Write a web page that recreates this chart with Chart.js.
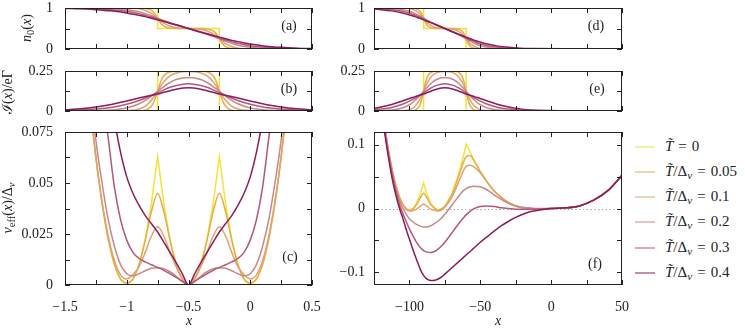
<!DOCTYPE html>
<html><head><meta charset="utf-8">
<script src="https://cdn.jsdelivr.net/npm/chart.js@4.4.1/dist/chart.umd.min.js"></script>
<style>
body{margin:0;background:#fff;}
#wrap{position:relative;width:745px;height:328px;overflow:hidden;font-family:"Liberation Serif","DejaVu Serif",serif;color:#222;background:#fff;}
canvas{position:absolute;}
.t{position:absolute;white-space:nowrap;font-size:14px;line-height:1;transform:translate(-50%,-50%);}
.r{transform:translate(-50%,-50%) rotate(-90deg);}
.leg{position:absolute;left:635px;white-space:nowrap;font-size:15px;line-height:1;transform:translateY(-50%);}
.leg .l{display:inline-block;width:20px;height:0;border-top:1.5px solid;vertical-align:middle;margin-right:10px;}
.leg .eq{margin:0 5px;}
sub{font-size:75%;vertical-align:-0.28em;line-height:0;}
</style></head><body><div id="wrap">
<canvas id="ca" width="330" height="60" style="left:0;top:0"></canvas>
<canvas id="cb" width="330" height="62" style="left:0;top:60px"></canvas>
<canvas id="cc" width="330" height="206" style="left:0;top:122px"></canvas>
<canvas id="cd" width="300" height="60" style="left:330px;top:0"></canvas>
<canvas id="ce" width="300" height="62" style="left:330px;top:60px"></canvas>
<canvas id="cf" width="300" height="206" style="left:330px;top:122px"></canvas>

<div class="t r" style="left:27px;top:28px"><i>n</i><sub>0</sub>(<i>x</i>)</div>
<div class="t r" style="left:8px;top:92px">ℐ(<i>x</i>)/eΓ</div>
<div class="t r" style="left:8px;top:208px"><i>v</i><sub>eff</sub>(<i>x</i>)/Δ<sub><i>v</i></sub></div>
<div class="t" style="left:189px;top:321px"><i>x</i></div>
<div class="t" style="left:498px;top:321px"><i>x</i></div>
<div class="t" style="left:289px;top:26px">(a)</div>
<div class="t" style="left:289px;top:89px">(b)</div>
<div class="t" style="left:290px;top:257px">(c)</div>
<div class="t" style="left:596px;top:26px">(d)</div>
<div class="t" style="left:597px;top:89px">(e)</div>
<div class="t" style="left:595px;top:264px">(f)</div>
<div id="legend"></div>
</div>
<script>
// ---------- data ----------
const temps = ['0', '0.05', '0.1', '0.2', '0.3', '0.4'];
const colors = ['#f4e23c', '#e8ad45', '#e3a077', '#c48a88', '#b4587a', '#8c1c5a'];

// panels (a),(b),(d),(e): T=0 is a staircase
const xStepAB = [-1.5, -0.75, -0.75, -0.25, -0.25, 0.5];
const xStepDE = [-125, -90, -90, -60, -60, 50];
const n0Step = [1, 1, 0.5, 0.5, 0, 0];
const curStep = [0, 0, 0.25, 0.25, 0, 0];
const xAB = [-1.5,-1.375,-1.25,-1.125,-1,-0.9,-0.85,-0.8,-0.775,-0.75,-0.725,-0.7,-0.65,-0.6,-0.5,-0.4,-0.35,-0.3,-0.275,-0.25,-0.225,-0.2,-0.15,-0.1,0,0.125,0.25,0.375,0.5];
const xDE = [-135,-127.5,-120,-112.5,-105,-99,-96,-93,-91.5,-90,-88.5,-87,-84,-81,-75,-69,-66,-63,-61.5,-60,-58.5,-57,-54,-51,-45,-37.5,-30,-22.5,-15,50];

const n0_005 = [1,1,1,1,1,1,0.99,0.94,0.87,0.75,0.63,0.56,0.51,0.5,0.5,0.5,0.49,0.44,0.37,0.25,0.13,0.06,0.01,0,0,0,0,0,0,0];
const n0_01  = [1,1,1,1,1,0.98,0.94,0.87,0.81,0.75,0.69,0.63,0.56,0.52,0.5,0.48,0.44,0.37,0.31,0.25,0.19,0.13,0.06,0.02,0,0,0,0,0,0];
const n0_02  = [1,1,1,0.99,0.96,0.91,0.86,0.81,0.78,0.75,0.72,0.68,0.63,0.58,0.5,0.42,0.37,0.32,0.28,0.25,0.22,0.19,0.14,0.09,0.04,0.01,0,0,0,0];
const n0_03  = [1,0.99,0.98,0.96,0.92,0.86,0.82,0.78,0.76,0.73,0.71,0.69,0.64,0.59,0.5,0.41,0.36,0.31,0.29,0.27,0.24,0.22,0.18,0.14,0.08,0.04,0.02,0.01,0,0];
const n0_04  = [0.99,0.98,0.96,0.93,0.88,0.82,0.79,0.75,0.73,0.71,0.69,0.67,0.63,0.59,0.5,0.41,0.37,0.33,0.31,0.29,0.27,0.25,0.21,0.18,0.12,0.07,0.04,0.02,0.01,0];

const cur_005 = [0,0,0,0,0,0,0.005,0.03,0.067,0.125,0.183,0.22,0.245,0.249,0.25,0.249,0.245,0.22,0.183,0.125,0.067,0.03,0.005,0,0,0,0,0,0,0];
const cur_01  = [0,0,0,0,0.002,0.012,0.03,0.067,0.094,0.125,0.156,0.183,0.22,0.238,0.247,0.238,0.22,0.183,0.156,0.125,0.094,0.067,0.03,0.012,0.002,0,0,0,0,0];
const cur_02  = [0,0,0.002,0.006,0.019,0.045,0.067,0.093,0.108,0.123,0.138,0.153,0.178,0.197,0.21,0.197,0.178,0.153,0.138,0.123,0.108,0.093,0.067,0.045,0.019,0.006,0.002,0,0,0];
const cur_03  = [0.003,0.006,0.012,0.022,0.042,0.066,0.081,0.097,0.106,0.114,0.123,0.132,0.148,0.16,0.17,0.16,0.148,0.132,0.123,0.114,0.106,0.097,0.081,0.066,0.042,0.022,0.012,0.006,0.003,0];
const cur_04  = [0.007,0.014,0.025,0.041,0.063,0.081,0.09,0.098,0.102,0.106,0.111,0.117,0.127,0.136,0.145,0.136,0.127,0.117,0.111,0.106,0.102,0.098,0.09,0.081,0.063,0.041,0.025,0.014,0.007,0];

// panel (c)
const xC = [-1.3,-1.25,-1.2,-1.15,-1.1,-1.05,-1,-0.95,-0.9,-0.85,-0.8,-0.75,-0.7,-0.65,-0.6,-0.55,-0.5,-0.45,-0.4,-0.35,-0.3,-0.25,-0.2,-0.15,-0.1,-0.05,0,0.05,0.1,0.15,0.2,0.25,0.3];
const vC_0   = [0.09,0.0625,0.04,0.0225,0.01,0.0025,0,0.0025,0.01,0.0225,0.04,0.063,0.04,0.0225,0.01,0.0025,0,0.0025,0.01,0.0225,0.04,0.063,0.04,0.0225,0.01,0.0025,0,0.0025,0.01,0.0225,0.04,0.0625,0.09];
const vC_005 = [0.09,0.0625,0.04,0.0225,0.01,0.003,0.001,0.003,0.01,0.022,0.036,0.045,0.036,0.022,0.01,0.003,0,0.003,0.01,0.022,0.036,0.045,0.036,0.022,0.01,0.003,0.001,0.003,0.01,0.0225,0.04,0.0625,0.09];
const vC_01  = [0.09,0.063,0.041,0.024,0.012,0.005,0.003,0.005,0.009,0.016,0.024,0.0285,0.024,0.016,0.009,0.003,0,0.003,0.009,0.016,0.024,0.0285,0.024,0.016,0.009,0.005,0.003,0.005,0.012,0.024,0.041,0.063,0.09];
const vC_02  = [0.1,0.071,0.05,0.032,0.019,0.01,0.0055,0.0045,0.0055,0.007,0.0082,0.0085,0.008,0.0065,0.0043,0.0018,0,0.0018,0.0043,0.0065,0.008,0.0085,0.0082,0.007,0.0055,0.0045,0.0055,0.01,0.019,0.032,0.05,0.071,0.1];
const vC_03  = [0.135,0.115,0.095,0.072,0.048,0.032,0.022,0.016,0.013,0.0113,0.0099,0.0086,0.0072,0.0055,0.0037,0.0018,0,0.0018,0.0037,0.0055,0.0072,0.0086,0.0099,0.0113,0.013,0.016,0.022,0.032,0.048,0.072,0.095,0.115,0.135];
const vC_04  = [0.16,0.14,0.12,0.1,0.081,0.065,0.053,0.045,0.039,0.034,0.03,0.026,0.021,0.016,0.011,0.0055,0,0.0055,0.011,0.016,0.021,0.026,0.03,0.034,0.039,0.045,0.053,0.065,0.081,0.1,0.12,0.14,0.16];

// panel (f)
const xF = [-118,-115,-112,-110,-107,-105,-102,-100,-97,-95,-92,-90,-88,-85,-82,-80,-77,-75,-70,-65,-62,-60,-57,-55,-50,-45,-40,-35,-30,-25,-20,-15,-10,0,10,20,30,40,50];
const vF_0   = [0.136,0.094,0.059,0.04,0.018,0.008,-0.001,-0.003,0.001,0.008,0.025,0.04,0.025,0.008,0.001,-0.003,0,0.0035,0.023,0.056,0.081,0.101,0.088,0.078,0.058,0.041,0.027,0.017,0.009,0.004,0.001,0,-0.001,0,0.001,0.004,0.013,0.028,0.052];
const vF_005 = [0.136,0.094,0.059,0.04,0.018,0.008,-0.001,-0.003,0,0.006,0.018,0.024,0.018,0.006,0,-0.003,0,0.0035,0.022,0.052,0.072,0.081,0.083,0.077,0.058,0.041,0.027,0.017,0.009,0.004,0.001,0,-0.001,0,0.001,0.004,0.013,0.028,0.052];
const vF_01  = [0.135,0.093,0.058,0.039,0.017,0.007,-0.002,-0.004,-0.003,-0.001,0.004,0.007,0.004,-0.001,-0.003,-0.004,-0.002,0.002,0.018,0.043,0.059,0.066,0.068,0.066,0.056,0.041,0.027,0.017,0.009,0.004,0.001,0,-0.001,0,0.001,0.004,0.013,0.028,0.052];
const vF_02  = [0.133,0.09,0.054,0.035,0.012,0.002,-0.01,-0.016,-0.022,-0.025,-0.028,-0.029,-0.029,-0.027,-0.023,-0.02,-0.014,-0.009,0.005,0.02,0.028,0.031,0.034,0.035,0.034,0.029,0.021,0.014,0.008,0.004,0.002,0.001,0,0,0.001,0.004,0.013,0.028,0.052];
const vF_03  = [0.13,0.087,0.05,0.03,0.006,-0.006,-0.022,-0.032,-0.045,-0.053,-0.062,-0.066,-0.068,-0.069,-0.067,-0.064,-0.058,-0.053,-0.038,-0.023,-0.015,-0.01,-0.004,-0.001,0.003,0.004,0.003,0.001,0,-0.001,-0.001,-0.001,-0.001,0,0.001,0.004,0.013,0.028,0.052];
const vF_04  = [0.127,0.083,0.045,0.025,0,-0.013,-0.035,-0.048,-0.068,-0.08,-0.097,-0.105,-0.11,-0.113,-0.1125,-0.111,-0.107,-0.103,-0.093,-0.083,-0.077,-0.073,-0.067,-0.063,-0.053,-0.044,-0.035,-0.027,-0.02,-0.014,-0.009,-0.005,-0.003,0,0.001,0.004,0.013,0.028,0.052];

// tick values and labelled ticks
const xTicksL = [-1.5,-1.25,-1,-0.75,-0.5,-0.25,0,0.25,0.5], xLabL = [-1.5,-1,-0.5,0,0.5];
const xTicksR = [-125,-100,-75,-50,-25,0,25,50], xLabR = [-100,-50,0,50];
const yTicksA = [0,0.5,1], yLabA = [0,1];
const yTicksB = [0,0.125,0.25], yLabB = [0,0.25];
const yTicksC = [0,0.0125,0.025,0.0375,0.05,0.0625,0.075], yLabC = [0,0.025,0.05,0.075];
const yTicksF = [-0.1,-0.05,0,0.05,0.1], yLabF = [-0.1,0,0.1];

// ---------- drawing ----------
const fmt = v => (v < 0 ? '\u2212' : '') + String(+Math.abs(v).toFixed(4));
const FONT = {family: '"Liberation Serif","DejaVu Serif",serif', size: 14};

const framePlugin = {
  id: 'frame',
  beforeDatasetsDraw(ch, args, o) {
    if (!o || !o.zero) return;
    const {ctx, chartArea: a, scales: {y}} = ch;
    const py = Math.round(y.getPixelForValue(0)) + 0.5;
    ctx.save(); ctx.strokeStyle = '#999'; ctx.lineWidth = 1; ctx.setLineDash([1.2, 2.6]);
    ctx.beginPath(); ctx.moveTo(a.left, py); ctx.lineTo(a.right, py); ctx.stroke(); ctx.restore();
  },
  afterDraw(ch) {
    const {ctx, chartArea: a, scales: {x, y}} = ch;
    ctx.save(); ctx.strokeStyle = '#222'; ctx.lineWidth = 1; ctx.beginPath();
    for (const t of x.ticks) { const px = Math.round(x.getPixelForValue(t.value)) + 0.5;
      ctx.moveTo(px, a.bottom); ctx.lineTo(px, a.bottom - 5); ctx.moveTo(px, a.top); ctx.lineTo(px, a.top + 5); }
    for (const t of y.ticks) { const py = Math.round(y.getPixelForValue(t.value)) + 0.5;
      ctx.moveTo(a.left, py); ctx.lineTo(a.left + 5, py); ctx.moveTo(a.right, py); ctx.lineTo(a.right - 5, py); }
    ctx.stroke();
    ctx.strokeRect(a.left + 0.5, a.top + 0.5, a.right - a.left - 1, a.bottom - a.top - 1);
    ctx.restore();
  }
};

function axis(min, max, ticks, labs, show, pad, fit) {
  return {
    type: 'linear', min, max,
    afterBuildTicks: s => { s.ticks = ticks.map(v => ({value: v})); },
    afterFit: s => { fit(s); s.paddingTop = 0; s.paddingBottom = 0; s.paddingLeft = 0; s.paddingRight = 0; },
    grid: {display: false, drawTicks: false}, border: {display: false},
    ticks: {display: show, autoSkip: false, maxRotation: 0, padding: pad, color: '#222', font: FONT,
      callback: v => labs.some(l => Math.abs(l - v) < 1e-9) ? fmt(v) : ''}
  };
}

function ds(xs, ys, i) {
  const d = {data: xs.map((x, j) => ({x, y: ys[j]})), showLine: true, borderColor: colors[i],
    borderWidth: 1.5, pointRadius: 0, fill: false, order: 5 - i};
  if (i === 0) d.tension = 0; else d.cubicInterpolationMode = 'monotone';
  return d;
}

function panel(id, box, plot, xr, yr, sets, opt) {
  new Chart(document.getElementById(id), {
    type: 'scatter',
    data: {datasets: sets},
    options: {
      responsive: false, animation: false, events: [],
      layout: {padding: {left: 0, top: plot.T - box.t, right: box.l + box.w - plot.R, bottom: 0}},
      plugins: {legend: {display: false}, tooltip: {enabled: false}, frame: {zero: !!opt.zero}},
      scales: {
        x: axis(xr[0], xr[1], xr[2], xr[3], opt.showX, 14, s => { s.height = box.t + box.h - plot.B; }),
        y: axis(yr[0], yr[1], yr[2], yr[3], true, opt.ypad, s => { s.width = plot.L - box.l; })
      }
    },
    plugins: [framePlugin]
  });
}

const n0Sets = [n0_005, n0_01, n0_02, n0_03, n0_04];
const curSets = [cur_005, cur_01, cur_02, cur_03, cur_04];
const vCSets = [vC_0, vC_005, vC_01, vC_02, vC_03, vC_04];
const vFSets = [vF_0, vF_005, vF_01, vF_02, vF_03, vF_04];

const xL = [-1.5, 0.5, xTicksL, xLabL], xR = [-125, 50, xTicksR, xLabR];

panel('ca', {l:0,t:0,w:330,h:60}, {L:65,T:8,R:312,B:49}, xL, [0,1,yTicksA,yLabA],
  [ds(xStepAB, n0Step, 0), ...n0Sets.map((s, k) => ds(xAB, s, k + 1))], {showX:false, ypad:12});
panel('cb', {l:0,t:60,w:330,h:62}, {L:65,T:71,R:312,B:111}, xL, [0,0.25,yTicksB,yLabB],
  [ds(xStepAB, curStep, 0), ...curSets.map((s, k) => ds(xAB, s, k + 1))], {showX:false, ypad:12});
panel('cc', {l:0,t:122,w:330,h:206}, {L:65,T:132,R:312,B:285}, xL, [0,0.075,yTicksC,yLabC],
  vCSets.map((s, k) => ds(xC, s, k)), {showX:true, ypad:12});
panel('cd', {l:330,t:0,w:300,h:60}, {L:374,T:8,R:622,B:49}, xR, [0,1,yTicksA,yLabA],
  [ds(xStepDE, n0Step, 0), ...n0Sets.map((s, k) => ds(xDE, s, k + 1))], {showX:false, ypad:9});
panel('ce', {l:330,t:60,w:300,h:62}, {L:374,T:71,R:622,B:111}, xR, [0,0.25,yTicksB,yLabB],
  [ds(xStepDE, curStep, 0), ...curSets.map((s, k) => ds(xDE, s, k + 1))], {showX:false, ypad:9});
panel('cf', {l:330,t:122,w:300,h:206}, {L:374,T:132,R:622,B:285}, xR, [-0.12,0.12,yTicksF,yLabF],
  vFSets.map((s, k) => ds(xF, s, k)), {showX:true, ypad:9, zero:true});

// legend
const legY = [146, 171, 196, 221, 247, 272];
document.getElementById('legend').innerHTML = temps.map((t, i) =>
  `<div class="leg" style="top:${legY[i]}px"><span class="l" style="border-color:${colors[i]}"></span>` +
  (i === 0 ? `<i>T&#771;</i><span class="eq">=</span>${t}` : `<i>T&#771;</i>/Δ<sub><i>v</i></sub><span class="eq">=</span>${t}`) + `</div>`).join('');
</script>
</body></html>
